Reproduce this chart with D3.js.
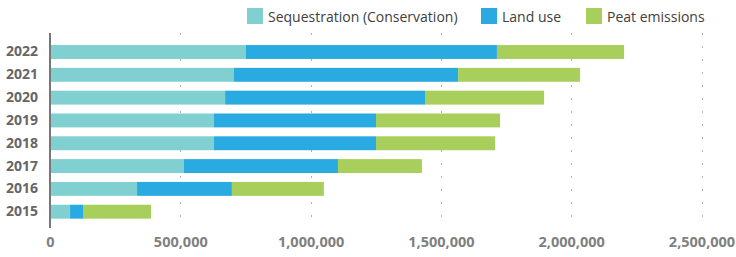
<!DOCTYPE html>
<html>
<head>
<meta charset="utf-8">
<script src="https://cdn.jsdelivr.net/npm/d3@7"></script>
<style>
  body { margin: 0; background: #fff; }
  svg text { font-family: "Open Sans", sans-serif; }
</style>
</head>
<body>
<div id="chart"></div>
<script>
// data
var years = ["2022", "2021", "2020", "2019", "2018", "2017", "2016", "2015"];
var sequestration = [752000, 706000, 672000, 629000, 629000, 514000, 334000, 77000];
var landUse = [963000, 860000, 767000, 622000, 622000, 591000, 364000, 52000];
var peat = [488000, 468000, 457000, 476000, 457000, 322000, 353000, 259000];
var seriesNames = ["Sequestration (Conservation)", "Land use", "Peat emissions"];
var xTicks = [0, 500000, 1000000, 1500000, 2000000, 2500000];

var colors = ["#80d0d1", "#29aae1", "#a8cf5b"];

var svgWidth = 736, svgHeight = 257;
var margin = { top: 33, right: 34, bottom: 29, left: 50 };
var width = svgWidth - margin.left - margin.right;
var height = svgHeight - margin.top - margin.bottom;

var rows = years.map(function(y, i) {
    return { year: y, s0: sequestration[i], s1: landUse[i], s2: peat[i] };
});
var stack = d3.stack().keys(["s0", "s1", "s2"]);
var layers = stack(rows);

var svg = d3.select("#chart").append("svg")
    .attr("width", svgWidth)
    .attr("height", svgHeight);

var g = svg.append("g")
    .attr("transform", "translate(" + margin.left + "," + margin.top + ")");

var x = d3.scaleLinear()
    .domain([0, 2500000])
    .range([0, 651.5]);

var y = d3.scaleBand()
    .domain(years)
    .range([7.6, 190.1])
    .paddingInner(0.39)
    .paddingOuter(0.195);

// dotted gridlines
g.append("g").selectAll("line")
    .data(xTicks.slice(1))
    .enter().append("line")
    .attr("x1", function(d) { return Math.round(x(d)) + 0.5; })
    .attr("x2", function(d) { return Math.round(x(d)) + 0.5; })
    .attr("y1", 0)
    .attr("y2", height)
    .attr("stroke", "#b0b0b0")
    .attr("stroke-width", 1)
    .attr("stroke-dasharray", "2,11");

// bars
g.append("g").selectAll("g")
    .data(layers)
    .enter().append("g")
    .attr("fill", function(d, i) { return colors[i]; })
    .selectAll("rect")
    .data(function(d) { return d; })
    .enter().append("rect")
    .attr("x", function(d) { return x(d[0]); })
    .attr("y", function(d) { return y(d.data.year); })
    .attr("width", function(d) { return x(d[1]) - x(d[0]); })
    .attr("height", y.bandwidth());

// y axis line
g.append("line")
    .attr("x1", 0).attr("x2", 0)
    .attr("y1", 0).attr("y2", height)
    .attr("stroke", "#777")
    .attr("stroke-width", 2);

// y labels
var yAxis = g.append("g")
    .call(d3.axisLeft(y).tickSize(0).tickPadding(12));
yAxis.select(".domain").remove();
yAxis.selectAll("text")
    .attr("font-family", "Open Sans, sans-serif")
    .attr("font-size", 14)
    .attr("font-weight", "bold")
    .attr("fill", "#666");

// x labels
var xAxis = g.append("g")
    .attr("transform", "translate(0," + height + ")")
    .call(d3.axisBottom(x).tickValues(xTicks).tickSize(0).tickPadding(9)
        .tickFormat(d3.format(",")));
xAxis.select(".domain").remove();
xAxis.selectAll("text")
    .attr("font-family", "Open Sans, sans-serif")
    .attr("font-size", 14.5)
    .attr("font-weight", "bold")
    .attr("fill", "#808080");

// legend
var legendX = [247, 481, 586];
var legend = svg.append("g");
seriesNames.forEach(function(name, i) {
    legend.append("rect")
        .attr("x", legendX[i])
        .attr("y", 8)
        .attr("width", 16)
        .attr("height", 16)
        .attr("fill", colors[i]);
    legend.append("text")
        .attr("x", legendX[i] + 21)
        .attr("y", 21.5)
        .attr("font-size", 14)
        .attr("fill", "#404040")
        .text(name);
});
</script>
</body>
</html>
